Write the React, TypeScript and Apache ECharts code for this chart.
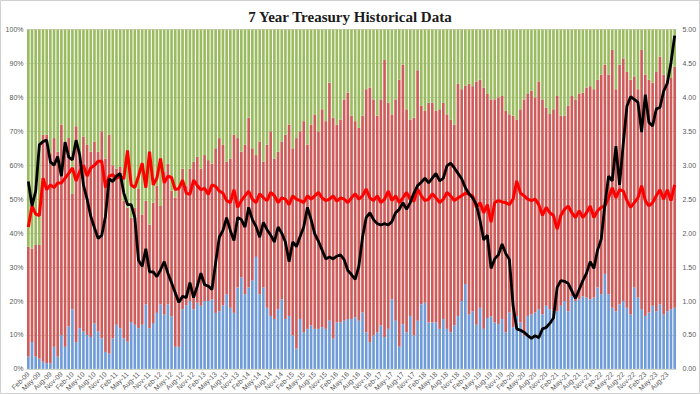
import React, { useEffect, useRef } from "react";
import * as echarts from "echarts";

const MONTHS = ["Jan", "Feb", "Mar", "Apr", "May", "Jun", "Jul", "Aug", "Sep", "Oct", "Nov", "Dec"];
const categories: string[] = [];
for (let y = 2009, m = 1; y < 2023 || (y === 2023 && m <= 9); ) {
  categories.push(`${MONTHS[m]}-${String(y % 100).padStart(2, "0")}`);
  m++;
  if (m === 12) { m = 0; y++; }
}

// Direct bidders share (%), bottom bar
const directPct = [
  3.6, 7.9, 3.6, 3, 2.1, 1.7, 1.7, 6.5, 3.6, 10, 6.5, 12.5, 17.6, 7.9, 12, 11, 10, 9.4, 13.4, 11,
  9, 5, 4.5, 9, 13, 12, 9, 8, 13.8, 13, 12, 13, 19, 12, 13.5, 16.5, 19, 16, 19, 15.5,
  6.5, 6.5, 17.6, 18.7, 20, 17.6, 19.5, 18.6, 20, 20, 20.5, 16.5, 17, 18.7, 22, 18, 16.5, 24, 27, 22,
  24, 26, 33, 22, 24, 18, 15.6, 14.7, 17.6, 20.5, 14.7, 15.6, 9.9, 6, 14.7, 10.8, 11.8, 12.8, 11.8, 11.8,
  12.3, 11.8, 14.2, 8.9, 13.7, 13.7, 14.2, 14.7, 14.7, 15.2, 14.2, 16.6, 10.8, 7.9, 9.9, 10.8, 12.8, 9.4, 11.8, 20.5,
  14.2, 6.5, 13.2, 10.8, 15.6, 9.9, 14.2, 19, 19.5, 13.7, 13.7, 13.7, 11.8, 14.7, 11.8, 10.8, 12.8, 15.6, 20, 25,
  16, 17, 13, 18, 11.8, 15, 15.5, 13.7, 13.2, 14.7, 10.8, 16.6, 12.3, 15.6, 13.7, 9.9, 15.6, 16.1, 16.6, 17.6,
  16.1, 18.6, 17.6, 16.6, 17, 18.6, 20, 17, 21.4, 20, 20.5, 21.4, 21, 20.5, 21, 24, 22, 28, 22, 18,
  17, 19, 20, 18, 16, 24, 21, 17.6, 15.6, 16.6, 18.6, 17, 19, 16, 17, 17.6, 18,
];

// Direct + indirect share (%), top of the red bar
const directPlusIndirect = [
  36, 35.5, 36.5, 36.5, 69, 69, 63.5, 68, 64, 72, 64.5, 68, 51.5, 71.5, 62, 68.5, 66, 64, 67, 64,
  70, 62, 69, 60, 59, 59.5, 49.5, 47.5, 44.5, 47.5, 53, 45.5, 49.5, 42.5, 49, 54, 48, 58, 60.5, 52.5,
  50.5, 53, 59, 54, 59, 61, 62.5, 59, 63, 61.5, 60.5, 65, 68, 66, 61, 62, 69, 68, 64, 66,
  74, 65, 63, 67, 61, 66, 70, 62, 64, 67, 69, 72, 65, 68, 70, 73, 66, 72, 75, 70,
  76.5, 73, 84.3, 74, 72, 73.5, 79.4, 81.4, 74.6, 73, 71, 74.6, 82.4, 82.9, 79.4, 74.6, 79.4, 91, 78.4, 75,
  79.4, 85.2, 89.6, 76.5, 73.5, 74, 88, 77.5, 76, 78.4, 78.4, 76, 76.5, 78.4, 75, 73.5, 72, 84, 82.4, 83.4,
  84, 83.3, 84.7, 85.2, 82.9, 81, 79.4, 79.4, 80, 80.4, 76, 75, 74.6, 73.5, 76.5, 79.4, 81, 82, 80, 84.7,
  79.4, 77, 75.1, 76.5, 80.4, 74.6, 74.6, 77.5, 80.4, 79.4, 81, 81.4, 82.9, 83.3, 82.4, 85.2, 86.7, 89.6, 86.7, 94,
  82.4, 89.6, 91.5, 87.5, 85.2, 86.2, 82.4, 94, 86.7, 85.2, 84.3, 87.5, 92, 86.7, 85.2, 85.7, 89,
];

const indirectPct = directPlusIndirect.map((v, i) => +(v - directPct[i]).toFixed(1));
const dealerPct = directPlusIndirect.map((v) => +(100 - v).toFixed(1));

// High yield (%), right axis
const yieldValues = [
  2.76, 2.40, 2.62, 3.30, 3.35, 3.37, 3.05, 3.00, 3.13, 2.84, 3.34, 3.12, 3.08, 3.37, 3.15, 2.71, 2.50, 2.25, 2.08, 1.92,
  1.97, 2.25, 2.80, 2.76, 2.84, 2.88, 2.59, 2.42, 2.42, 2.23, 1.60, 1.51, 1.77, 1.43, 1.43, 1.36, 1.46, 1.58, 1.41, 1.27,
  1.12, 0.98, 1.07, 1.05, 1.27, 1.05, 1.22, 1.41, 1.24, 1.22, 1.17, 1.56, 1.94, 2.04, 2.23, 2.04, 1.89, 2.23, 2.20, 2.09,
  2.38, 2.20, 2.10, 1.94, 2.16, 2.05, 1.97, 1.87, 2.09, 2.00, 1.87, 1.58, 1.87, 1.80, 1.95, 2.09, 2.38, 2.20, 1.99, 1.88,
  1.75, 1.62, 1.65, 1.62, 1.66, 1.68, 1.61, 1.45, 1.39, 1.32, 1.51, 1.94, 2.23, 2.30, 2.20, 2.14, 2.12, 2.14, 2.12, 2.17,
  2.30, 2.35, 2.45, 2.35, 2.45, 2.59, 2.70, 2.75, 2.81, 2.74, 2.81, 2.88, 2.77, 2.81, 2.99, 3.03, 2.96, 2.88, 2.80, 2.67,
  2.58, 2.52, 2.42, 2.19, 1.90, 1.97, 1.48, 1.62, 1.68, 1.84, 1.70, 1.61, 0.93, 0.59, 0.57, 0.54, 0.49, 0.45, 0.49, 0.46,
  0.59, 0.61, 0.67, 0.75, 1.20, 1.30, 1.29, 1.26, 1.15, 1.04, 1.17, 1.30, 1.41, 1.58, 1.48, 1.75, 1.91, 2.42, 2.84, 2.77,
  3.28, 2.71, 3.32, 3.87, 4.01, 3.97, 3.93, 3.49, 4.04, 3.63, 3.58, 3.83, 3.85, 4.09, 4.21, 4.51, 4.91,
];

// Bid to cover ratio, right axis
const bidToCover = [
  2.09, 2.40, 2.28, 2.26, 2.81, 2.64, 2.71, 2.67, 2.74, 2.74, 2.81, 2.88, 2.96, 2.77, 2.91, 3.00, 2.84, 2.96, 3.00, 3.06,
  3.06, 2.67, 2.84, 2.86, 2.81, 2.84, 2.80, 3.22, 2.71, 2.67, 2.84, 3.03, 2.67, 3.20, 2.71, 2.81, 3.10, 2.74, 2.84, 2.82,
  2.64, 2.66, 2.78, 2.59, 2.57, 2.78, 2.70, 2.64, 2.66, 2.57, 2.71, 2.69, 2.62, 2.59, 2.48, 2.45, 2.64, 2.38, 2.48, 2.55,
  2.62, 2.50, 2.45, 2.58, 2.52, 2.48, 2.60, 2.55, 2.45, 2.52, 2.50, 2.42, 2.55, 2.50, 2.48, 2.45, 2.55, 2.50, 2.55, 2.60,
  2.52, 2.48, 2.50, 2.55, 2.47, 2.52, 2.50, 2.45, 2.52, 2.58, 2.50, 2.55, 2.65, 2.52, 2.48, 2.55, 2.45, 2.50, 2.62, 2.48,
  2.55, 2.45, 2.52, 2.60, 2.50, 2.47, 2.65, 2.55, 2.48, 2.50, 2.58, 2.52, 2.45, 2.50, 2.60, 2.55, 2.48, 2.52, 2.55, 2.59,
  2.57, 2.55, 2.38, 2.45, 2.30, 2.42, 2.16, 2.45, 2.48, 2.46, 2.45, 2.42, 2.50, 2.77, 2.59, 2.55, 2.50, 2.48, 2.50, 2.42,
  2.26, 2.38, 2.30, 2.26, 2.06, 2.26, 2.35, 2.40, 2.30, 2.23, 2.33, 2.23, 2.30, 2.40, 2.23, 2.33, 2.38, 2.40, 2.52, 2.67,
  2.52, 2.64, 2.62, 2.48, 2.38, 2.45, 2.52, 2.70, 2.48, 2.40, 2.45, 2.55, 2.64, 2.50, 2.64, 2.48, 2.71,
];

const leftTicks = { min: 0, max: 100, interval: 10 };
const rightTicks = { min: 0, max: 5, interval: 0.5 };

export default function App() {
  const ref = useRef<HTMLDivElement>(null);
  useEffect(() => {
    if (!ref.current) return;
    const chart = echarts.init(ref.current, null, { renderer: "svg" });
    const axisLabel = { color: "#595959", fontSize: 7, fontFamily: "Liberation Sans" };
    chart.setOption({
      animation: false,
      backgroundColor: "#ffffff",
      title: {
        text: "7 Year Treasury Historical Data",
        left: "center",
        top: 4,
        textStyle: { fontFamily: "Liberation Serif", fontWeight: "bold", fontSize: 15, color: "#1a1a1a" },
      },
      grid: { left: 26.5, right: 23.5, top: 29.5, bottom: 20, containLabel: false },
      xAxis: {
        type: "category",
        data: categories,
        axisLine: { show: false },
        axisTick: { show: false },
        axisLabel: { ...axisLabel, rotate: 45, interval: 2, margin: 4 },
      },
      yAxis: [
        {
          type: "value",
          ...leftTicks,
          axisLabel: { ...axisLabel, formatter: "{value}%", margin: 3 },
          splitLine: { show: true, lineStyle: { color: "#6f7f60", width: 0.6, opacity: 0.55 } },
          axisLine: { show: false },
          axisTick: { show: false },
        },
        {
          type: "value",
          ...rightTicks,
          axisLabel: { ...axisLabel, formatter: (v: number) => v.toFixed(2), margin: 6 },
          splitLine: { show: false },
          axisLine: { show: false },
          axisTick: { show: false },
        },
      ],
      series: [
        { name: "Direct", type: "bar", stack: "s", data: directPct, itemStyle: { color: "#6f9bd6" }, barCategoryGap: "28%" },
        { name: "Indirect", type: "bar", stack: "s", data: indirectPct, itemStyle: { color: "#cd5c5a" } },
        { name: "Dealers", type: "bar", stack: "s", data: dealerPct, itemStyle: { color: "#9bbb61" } },
        {
          name: "Bid to cover", type: "line", yAxisIndex: 1, data: bidToCover, symbol: "none",
          lineStyle: { color: "#ff0000", width: 3 },
        },
        {
          name: "Yield", type: "line", yAxisIndex: 1, data: yieldValues, symbol: "none",
          lineStyle: { color: "#000000", width: 2.8 },
        },
      ],
      graphic: [
        { type: "rect", shape: { x: 0.5, y: 0.5, width: 699, height: 393 }, style: { fill: "none", stroke: "#d0d0d0", lineWidth: 1 }, silent: true },
      ],
    });
    return () => chart.dispose();
  }, []);
  return <div ref={ref} style={{ position: "absolute", left: 0, top: 0, width: 700, height: 394 }} />;
}
